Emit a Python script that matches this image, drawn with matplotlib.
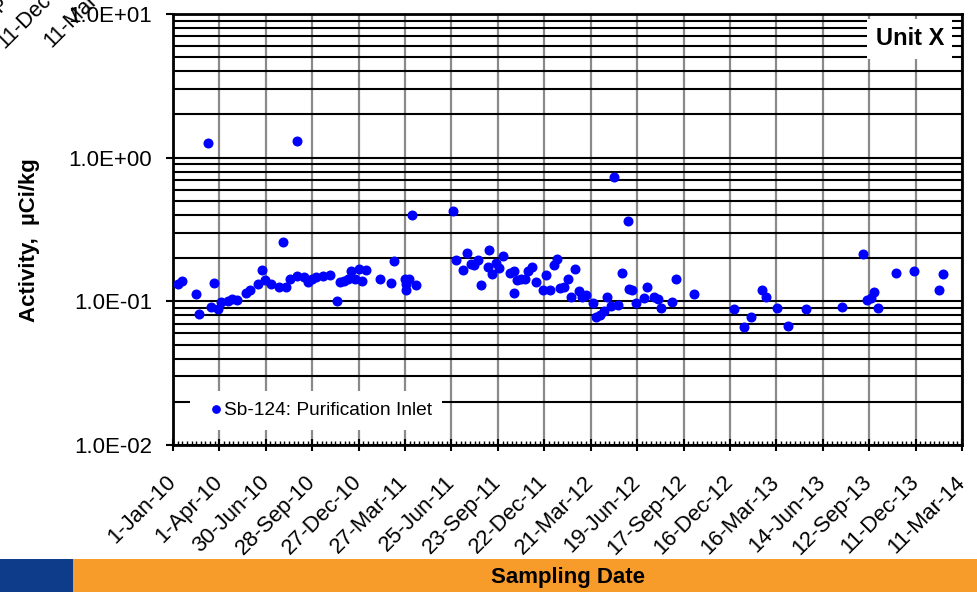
import datetime as dt
import numpy as np
import matplotlib
matplotlib.use("Agg")
import matplotlib.pyplot as plt
import matplotlib.dates as mdates
from matplotlib.ticker import FuncFormatter, LogLocator, FixedLocator, NullFormatter
from matplotlib.patches import Rectangle

plt.rcParams['font.family'] = ['Liberation Sans', 'DejaVu Sans']

# sampling dates and Sb-124 activity (uCi/kg)
sample_dates = [
    "2010-01-11", "2010-01-18", "2010-02-15", "2010-02-21", "2010-03-09", "2010-03-15",
    "2010-03-22", "2010-03-29", "2010-04-04", "2010-04-18", "2010-04-25", "2010-05-05",
    "2010-05-23", "2010-05-30", "2010-06-14", "2010-06-22", "2010-06-28", "2010-07-11",
    "2010-07-26", "2010-08-02", "2010-08-09", "2010-08-16", "2010-08-29", "2010-08-30",
    "2010-09-12", "2010-09-20", "2010-09-27", "2010-10-05", "2010-10-18", "2010-11-01",
    "2010-11-15", "2010-11-21", "2010-11-29", "2010-12-06", "2010-12-12", "2010-12-19",
    "2010-12-27", "2011-01-03", "2011-01-10", "2011-02-06", "2011-02-27", "2011-03-06",
    "2011-03-27", "2011-03-28", "2011-03-28", "2011-04-04", "2011-04-10", "2011-04-17",
    "2011-06-27", "2011-07-03", "2011-07-17", "2011-07-25", "2011-08-01", "2011-08-08",
    "2011-08-15", "2011-08-22", "2011-09-06", "2011-09-04", "2011-09-11", "2011-09-19",
    "2011-09-26", "2011-10-02", "2011-10-17", "2011-10-24", "2011-10-24", "2011-10-31",
    "2011-11-07", "2011-11-14", "2011-11-20", "2011-11-28", "2011-12-05", "2011-12-19",
    "2011-12-25", "2012-01-02", "2012-01-09", "2012-01-16", "2012-01-22", "2012-01-30",
    "2012-02-05", "2012-02-12", "2012-02-20", "2012-02-27", "2012-03-04", "2012-03-11",
    "2012-03-25", "2012-04-01", "2012-04-08", "2012-04-15", "2012-04-22", "2012-04-29",
    "2012-05-06", "2012-05-13", "2012-05-20", "2012-06-02", "2012-06-03", "2012-06-10",
    "2012-06-17", "2012-07-02", "2012-07-08", "2012-07-21", "2012-07-29", "2012-08-05",
    "2012-08-26", "2012-09-02", "2012-10-07", "2012-12-23", "2013-01-13", "2013-01-26",
    "2013-02-17", "2013-02-24", "2013-03-17", "2013-04-08", "2013-05-12", "2013-07-21",
    "2013-08-31", "2013-09-07", "2013-09-15", "2013-09-21", "2013-09-29", "2013-11-03",
    "2013-12-08", "2014-01-25", "2014-02-02",
]
sb124_activity = [
    0.131, 0.138, 0.113, 0.082, 1.27, 0.092,
    0.134, 0.088, 0.0995, 0.101, 0.1045, 0.102,
    0.114, 0.119, 0.133, 0.165, 0.141, 0.132,
    0.126, 0.259, 0.126, 0.144, 1.30, 0.151,
    0.148, 0.136, 0.144, 0.148, 0.149, 0.153,
    0.101, 0.137, 0.138, 0.142, 0.163, 0.144,
    0.168, 0.139, 0.165, 0.142, 0.135, 0.192,
    0.144, 0.133, 0.119, 0.144, 0.40, 0.129,
    0.425, 0.194, 0.166, 0.218, 0.182, 0.179,
    0.195, 0.129, 0.226, 0.172, 0.155, 0.184,
    0.170, 0.207, 0.157, 0.163, 0.115, 0.141,
    0.143, 0.142, 0.163, 0.174, 0.136, 0.119,
    0.153, 0.120, 0.178, 0.198, 0.124, 0.126,
    0.142, 0.107, 0.167, 0.118, 0.108, 0.110,
    0.0975, 0.078, 0.080, 0.085, 0.108, 0.093,
    0.735, 0.094, 0.158, 0.363, 0.1225, 0.119,
    0.0975, 0.106, 0.125, 0.107, 0.1045, 0.090,
    0.099, 0.142, 0.113, 0.089, 0.066, 0.078,
    0.120, 0.108, 0.090, 0.067, 0.089, 0.092,
    0.212, 0.102, 0.105, 0.116, 0.090, 0.158,
    0.162, 0.120, 0.154,
]
series_label = "Sb-124: Purification Inlet"
unit_label = "Unit X"
y_label = "Activity,  µCi/kg"
x_label = "Sampling Date"
# leftover tick labels of another chart poking in at the top-left
stray_labels = ["12-Sep-13", "11-Dec-13", "11-Mar-14"]

start = dt.datetime(2010, 1, 1)
end = dt.datetime(2014, 3, 11)
major_ticks = [start + dt.timedelta(days=90 * k) for k in range(18)]
minor_ticks = [start + dt.timedelta(days=9 * k) for k in range(171)]

dates = [dt.datetime.strptime(s, "%Y-%m-%d") for s in sample_dates]

fig = plt.figure(figsize=(9.77, 5.92), dpi=100)
ax = fig.add_axes([173 / 977, 147 / 592, 789 / 977, 431 / 592])

ax.plot(dates, sb124_activity, 'o', color='#0000FF', ms=6.2, mec='#0000FF',
        label=series_label, zorder=5, clip_on=False)

ax.set_yscale('log')
ax.set_ylim(0.01, 10)
ax.set_xlim(start, end)

ax.yaxis.set_major_locator(LogLocator(base=10, numticks=10))
ax.yaxis.set_minor_locator(LogLocator(base=10, subs=np.arange(2, 10), numticks=20))
ax.yaxis.set_major_formatter(FuncFormatter(lambda v, pos: f"{v:.1E}"))
ax.yaxis.set_minor_formatter(NullFormatter())

ax.xaxis.set_major_locator(FixedLocator(mdates.date2num(major_ticks)))
ax.xaxis.set_minor_locator(FixedLocator(mdates.date2num(minor_ticks)))


def fmt_date(x, pos):
    d = mdates.num2date(x)
    return f"{d.day}-{d:%b-%y}"


ax.xaxis.set_major_formatter(FuncFormatter(fmt_date))

ax.grid(True, which='both', axis='y', color='black', lw=1.5, zorder=1)
ax.grid(True, which='major', axis='x', color='#8a8a8a', lw=1.6, zorder=1)
ax.set_axisbelow(True)

for sp in ax.spines.values():
    sp.set_color('black')
    sp.set_linewidth(2)

ax.tick_params(axis='y', which='major', direction='out', length=5, width=1.5,
               labelsize=16, pad=10, colors='black')
ax.tick_params(axis='y', which='minor', length=0)
ax.tick_params(axis='x', which='major', direction='inout', length=9, width=1.5,
               labelsize=15.8, pad=20)
ax.tick_params(axis='x', which='minor', direction='in', length=3, width=1)
for lbl in ax.get_xticklabels():
    lbl.set_rotation(45)
    lbl.set_ha('right')
    lbl.set_va('center')
    lbl.set_rotation_mode('anchor')

leg = ax.legend(loc='lower left', bbox_to_anchor=(0.0215, 0.035), borderaxespad=0,
                fontsize=13.8, handlelength=1.6, handletextpad=-0.38, borderpad=0.55,
                fancybox=False, framealpha=1, markerscale=0.85)
leg.get_frame().set_edgecolor('none')
leg.get_frame().set_facecolor('white')
leg.set_zorder(6)

ax.text(0.934, 0.942, unit_label, transform=ax.transAxes, ha='center', va='center',
        fontsize=17, fontweight='bold', zorder=6,
        bbox=dict(facecolor='white', edgecolor='none', pad=6))

fig.text(30 / 977, 1 - 240 / 592, y_label, rotation=90, ha='center', va='center',
         fontsize=16, fontweight='bold')

# footer band
fig.patches.append(Rectangle((0, 0), 73 / 977, 33 / 592, transform=fig.transFigure,
                             facecolor='#0E3C8A', edgecolor='none'))
fig.patches.append(Rectangle((73 / 977, 0), 1 - 73 / 977, 33 / 592, transform=fig.transFigure,
                             facecolor='#F79B2B', edgecolor='none'))
fig.text(568 / 977, 1 - 578 / 592, x_label, ha='center', va='center',
         fontsize=16, fontweight='bold')

for i, s in enumerate(stray_labels):
    fig.text((24 + 46 * i) / 977, 1 + 25 / 592, s, rotation=45, ha='right', va='center',
             rotation_mode='anchor', fontsize=15.5)

fig.savefig("out.png", dpi=100)
